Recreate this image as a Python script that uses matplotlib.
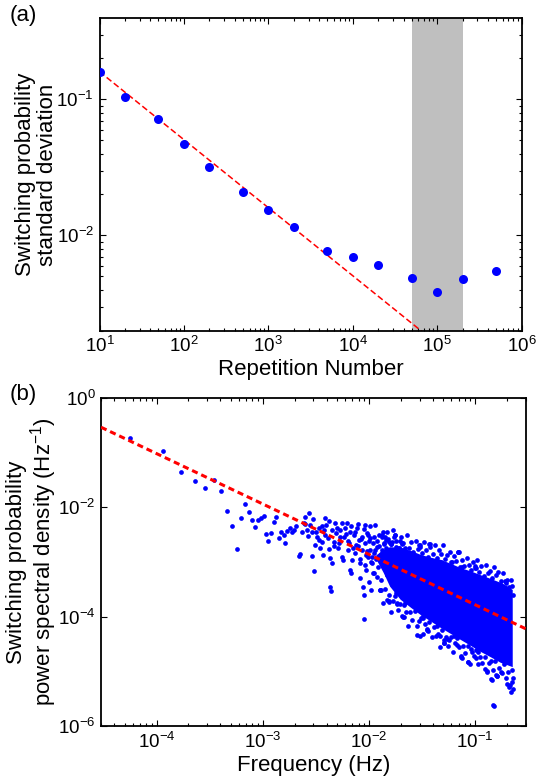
import numpy as np
import matplotlib
matplotlib.use("Agg")
import matplotlib.pyplot as plt
from matplotlib.ticker import FixedLocator, NullLocator, NullFormatter

plt.rcParams['font.family'] = ['Liberation Sans', 'DejaVu Sans']
plt.rcParams['mathtext.fontset'] = 'custom'
plt.rcParams['mathtext.rm'] = 'Liberation Sans'
plt.rcParams['mathtext.it'] = 'Liberation Sans:italic'
plt.rcParams['mathtext.bf'] = 'Liberation Sans:bold'

# ---- panel (a): std of switching probability vs repetitions
reps = [10, 20, 50, 100, 200, 500, 1e3, 2e3, 5e3, 1e4, 2e4, 5e4, 1e5, 2e5, 5e5]
std_dev = [0.160, 0.1047, 0.0713, 0.0474, 0.0319, 0.0208, 0.01545, 0.01158,
           0.00767, 0.00692, 0.00611, 0.00485, 0.00382, 0.00480, 0.00546]
fit_a_amp = 0.506      # sigma = amp * N^-1/2
fit_a_exp = -0.5
fit_a_range = [10, 1e5]
shade_range = [5e4, 2e5]

log_freq = [
    -4.246, -3.935, -3.765, -3.639, -3.542, -3.463, -3.397, -3.340, -3.287, -3.240,
    -3.205, -3.167, -3.129, -3.101, -3.070, -3.042, -3.020, -2.988, -2.966, -2.947,
    -2.922, -2.891, -2.872, -2.850, -2.828, -2.803, -2.787, -2.771, -2.746, -2.724,
    -2.708, -2.683, -2.661, -2.645, -2.630, -2.614, -2.598, -2.582, -2.567, -2.551,
    -2.535, -2.535, -2.519, -2.504, -2.488, -2.472, -2.457, -2.441, -2.431, -2.419,
    -2.409, -2.400, -2.387, -2.378, -2.369, -2.362, -2.356, -2.347, -2.331, -2.315,
    -2.306, -2.293, -2.284, -2.268, -2.252, -2.243, -2.230, -2.221, -2.205, -2.199,
    -2.189, -2.180, -2.174, -2.167, -2.158, -2.142, -2.126, -2.117, -2.111, -2.095,
    -2.086, -2.079, -2.064, -2.054, -2.048, -2.042, -2.032, -2.032, -2.023, -2.016,
    -2.010, -2.001, -1.991, -1.985, -1.979, -1.969, -1.960, -1.953, -1.947, -1.938,
    -1.928, -1.922, -1.906, -1.897, -1.891, -1.884, -1.875, -1.865, -1.859, -1.843,
    -1.828, -1.812, -1.802, -1.796, -1.780, -1.771, -1.758, -1.749, -1.740, -1.733,
    -1.727, -1.718, -1.690, -1.683, -1.657, -1.624, -1.575, -1.542, -1.526, -1.493,
    -1.451, -1.435, -1.395, -1.363, -1.330, -1.297, -1.265, -1.232, -1.199, -1.157,
    -1.134, -1.069, -1.036, -1.000, -0.971, -0.905, -0.873, -0.850, -0.834, -0.807,
    -0.758, -0.699, -0.676, -0.660, -0.650,
    -1.844, -1.750, -1.687, -1.514, -1.426, -1.325, -1.231, -1.149, -1.121, -0.988,
    -0.853, -0.759, -0.712,
    -1.891, -1.812, -1.734, -1.671, -1.523, -1.444, -1.488, -1.293, -1.246, -1.174,
    -1.121, -1.067, -0.995, -0.885, -0.838, -0.790, -0.822,
]
log_psd = [
    -0.741, -0.973, -1.351, -1.526, -1.643, -1.497, -1.703, -2.063, -2.348, -2.762,
    -2.197, -1.946, -2.092, -2.227, -2.355, -2.238, -2.202, -2.165, -2.483, -2.616,
    -2.464, -2.263, -2.172, -2.567, -2.446, -2.506, -2.646, -2.427, -2.385, -2.446,
    -2.415, -2.342, -2.890, -2.853, -2.446, -2.293, -2.184, -2.415, -2.111, -2.324,
    -2.884, -2.446, -3.164, -2.689, -2.537, -2.385, -2.750, -2.628, -2.872, -2.415,
    -2.202, -2.324, -2.567, -2.768, -3.450, -2.933, -3.535, -3.024, -2.628, -2.293,
    -2.476, -2.750, -2.659, -2.415, -2.902, -2.963, -2.537, -2.385, -2.293, -2.780,
    -2.659, -2.446, -3.146, -3.206, -2.963, -2.506, -2.841, -2.689, -2.385, -2.598,
    -3.298, -3.024, -2.780, -3.450, -4.046, -3.602, -2.324, -2.659, -3.146, -2.476,
    -2.902, -3.359, -2.780, -2.567, -3.511, -3.024, -2.659, -3.206, -2.841, -2.324,
    -3.267, -2.720, -2.506, -2.963, -3.511, -3.328, -2.780, -2.446, -3.024, -2.598,
    -3.237, -3.706, -2.841, -3.359, -2.628, -3.085, -2.506, -2.902, -3.572, -3.754,
    -3.267, -2.750, -2.663, -4.000, -3.747, -3.446, -3.807, -4.331, -2.693, -3.988,
    -4.241, -2.675, -3.958, -4.169, -4.349, -4.470, -4.410, -4.229, -4.349, -2.825,
    -4.741, -4.831, -4.590, -3.114, -4.651, -4.952, -4.651, -5.133, -5.602, -5.072,
    -5.012, -5.223, -5.283, -5.373, -5.193,
    -2.538, -2.507, -2.659, -2.690, -2.672, -2.994, -2.994, -2.812, -3.086, -3.116,
    -3.329, -3.420, -3.390,
    -3.512, -3.725, -3.767, -4.011, -4.352, -4.254, -4.029, -4.485, -4.425, -4.516,
    -4.759, -4.832, -4.759, -4.985, -5.155, -5.082, -5.630,
]
# extra points in the crowded mid band (0.003 - 0.02 Hz)
mid_logf = [
    -2.60, -2.57, -2.53, -2.50, -2.47, -2.44, -2.41, -2.38, -2.35, -2.33,
    -2.30, -2.27, -2.25, -2.22, -2.20, -2.17, -2.15, -2.13, -2.10, -2.07,
    -2.05, -2.03, -2.01, -1.99, -1.97, -2.10, -2.08, -2.06, -2.04, -2.02,
    -2.00, -1.98, -1.96,
    -1.95, -1.94, -1.93, -1.92, -1.91, -1.90, -1.89, -1.88, -1.87, -1.86,
    -1.85, -1.84, -1.83, -1.82, -1.81, -1.80, -1.79, -1.78, -1.77, -1.76,
    -1.75, -1.74, -1.73, -1.72, -1.71, -1.70, -1.69, -1.68,
]
mid_logpsd = [
    -2.30, -2.52, -2.22, -2.45, -2.60, -2.35, -2.50, -2.25, -2.42, -2.70,
    -2.38, -2.55, -2.28, -2.48, -2.62, -2.35, -2.75, -2.45, -2.30, -2.58,
    -2.40, -2.88, -2.50, -2.35, -2.90, -2.70, -2.95, -2.55, -3.05, -2.80,
    -2.62, -3.00, -3.20,
    -2.55, -2.78, -2.95, -2.62, -3.10, -2.70, -2.85, -2.50, -3.00, -2.65,
    -2.92, -2.75, -3.20, -2.58, -2.88, -3.05, -2.68, -2.80, -2.95, -2.55,
    -3.15, -2.72, -2.86, -3.00, -2.62, -3.30, -2.78, -2.92,
]
# upper and lower rim of the dense high-frequency cloud
rim_hi_logf = [
    -1.88, -1.86, -1.83, -1.81, -1.79, -1.77, -1.74, -1.72, -1.70, -1.68,
    -1.66, -1.64, -1.62, -1.60, -1.58, -1.56, -1.54, -1.52, -1.50, -1.48,
    -1.46, -1.44, -1.42, -1.40, -1.38, -1.36, -1.34, -1.32, -1.30, -1.28,
    -1.26, -1.24, -1.22, -1.20, -1.18, -1.16, -1.14, -1.12, -1.10, -1.08,
    -1.06, -1.04, -1.02, -1.00, -0.98, -0.96, -0.94, -0.92, -0.90, -0.88,
    -0.86, -0.84, -0.82, -0.80, -0.78, -0.76, -0.74, -0.72, -0.70, -0.68,
    -0.66, -0.65, -0.64,
]
rim_hi_logpsd = [
    -2.54, -2.68, -2.46, -2.63, -2.67, -2.42, -2.61, -2.74, -2.54, -2.66,
    -2.74, -2.50, -2.74, -2.63, -2.82, -2.62, -2.76, -2.73, -2.84, -2.63,
    -2.79, -2.91, -2.73, -2.86, -2.69, -2.92, -2.79, -2.86, -2.69, -2.95,
    -2.88, -2.81, -3.00, -2.89, -2.99, -2.82, -3.10, -2.97, -3.07, -2.92,
    -3.06, -3.15, -3.00, -3.08, -2.96, -3.18, -3.08, -3.26, -3.06, -3.20,
    -3.16, -3.29, -3.09, -3.24, -3.18, -3.34, -3.20, -3.34, -3.32, -3.45,
    -3.32, -3.43, -3.61,
]
rim_lo_logf = [
    -1.89, -1.87, -1.85, -1.83, -1.81, -1.79, -1.77, -1.75, -1.73, -1.71,
    -1.69, -1.67, -1.65, -1.63, -1.61, -1.59, -1.57, -1.55, -1.53, -1.51,
    -1.49, -1.47, -1.45, -1.43, -1.41, -1.39, -1.37, -1.35, -1.33, -1.31,
    -1.29, -1.27, -1.25, -1.23, -1.21, -1.19, -1.17, -1.15, -1.13, -1.11,
    -1.09, -1.07, -1.05, -1.03, -1.01, -0.99, -0.97, -0.95, -0.93, -0.91,
    -0.89, -0.87, -0.85, -0.83, -0.81, -0.79, -0.77, -0.75, -0.73, -0.71,
    -0.69, -0.67, -0.655, -0.645, -0.64,
]
rim_lo_logpsd = [
    -3.52, -3.75, -3.50, -3.69, -3.60, -3.91, -3.71, -3.62, -3.87, -3.76,
    -3.99, -3.78, -3.92, -4.17, -3.91, -4.05, -3.89, -4.16, -4.07, -4.02,
    -4.32, -4.13, -4.22, -4.10, -4.37, -4.19, -4.36, -4.31, -4.55, -4.24,
    -4.43, -4.37, -4.53, -4.37, -4.65, -4.48, -4.38, -4.56, -4.72, -4.53,
    -4.67, -4.54, -4.86, -4.65, -4.72, -4.61, -4.87, -4.73, -4.84, -4.73,
    -5.00, -4.85, -4.81, -4.98, -4.81, -5.09, -4.93, -5.02, -4.87, -5.12,
    -5.01, -5.24, -4.98, -5.12, -5.32,
]
# solid core of the cloud, outline
cloud_logf = [-1.93, -1.86, -1.80, -1.70, -1.60, -1.51, -1.42, -1.325, -1.23,
              -1.136, -1.04, -0.947, -0.85, -0.758, -0.70, -0.645]
cloud_upper = [-2.88, -2.78, -2.73, -2.74, -2.80, -2.87, -2.92, -2.96, -3.03,
               -3.11, -3.17, -3.24, -3.31, -3.38, -3.44, -3.51]
cloud_lower = [-2.95, -3.20, -3.45, -3.69, -3.84, -3.97, -4.08, -4.20, -4.31,
               -4.42, -4.53, -4.64, -4.74, -4.84, -4.88, -4.92]
fit_b_logamp = -4.70   # log10 psd = logamp + exp*log10 f
fit_b_exp = -0.92
fit_b_range = [3e-5, 0.3]

blue = (0, 0, 1)
red = (1, 0, 0)


def style_axes(ax):
    ax.tick_params(which='both', direction='in', top=True, right=True,
                   labelsize=13.5, pad=4, width=0.8)
    ax.tick_params(which='major', length=4)
    ax.tick_params(which='minor', length=2)
    for s in ax.spines.values():
        s.set_linewidth(1.3)


def dots(ax, lf, lp):
    ax.plot(10.0 ** np.array(lf), 10.0 ** np.array(lp), 'o', color=blue,
            ms=3.4, mew=0, zorder=2)


fig = plt.figure(figsize=(5.44, 7.83), dpi=100)

# ---------------- (a)
ax1 = fig.add_axes([99.5 / 544, 1 - 330.5 / 783, 422 / 544, 312.2 / 783])
ax1.axvspan(shade_range[0], shade_range[1], color=(0.75, 0.75, 0.75), lw=0, zorder=0)
fx = np.array(fit_a_range)
ax1.plot(fx, fit_a_amp * fx ** fit_a_exp, color=red, ls=(0, (4, 2)), lw=1.1, zorder=2)
ax1.plot(reps, std_dev, 'o', color=blue, ms=6.5, mew=0, zorder=3)
ax1.set_xscale('log')
ax1.set_yscale('log')
ax1.set_xlim(10, 1e6)
ax1.set_ylim(2e-3, 0.395)
ax1.yaxis.set_minor_formatter(NullFormatter())
style_axes(ax1)
ax1.set_xlabel('Repetition Number', fontsize=16, labelpad=2)
ax1.set_ylabel('Switching probability\nstandard deviation', fontsize=16,
               linespacing=1.05)
ax1.yaxis.set_label_coords(-0.098, 0.5)
fig.text(10 / 544, 1 - 5 / 783, '(a)', fontsize=16, va='top', ha='left')

# ---------------- (b)
ax2 = fig.add_axes([101 / 544, 1 - 726.3 / 783, 424.7 / 544, 328.6 / 783])
cf = 10.0 ** np.array(cloud_logf)
ax2.fill(np.concatenate([cf, cf[::-1]]),
         np.concatenate([10.0 ** np.array(cloud_upper), 10.0 ** np.array(cloud_lower)[::-1]]),
         color=blue, lw=0, zorder=2)
dots(ax2, log_freq, log_psd)
dots(ax2, mid_logf, mid_logpsd)
dots(ax2, rim_hi_logf, rim_hi_logpsd)
dots(ax2, rim_lo_logf, rim_lo_logpsd)
bx = np.array(fit_b_range)
ax2.plot(bx, 10.0 ** (fit_b_logamp + fit_b_exp * np.log10(bx)), color=red,
         ls=(0, (2, 1.3)), lw=2.2, zorder=3)
ax2.set_xscale('log')
ax2.set_yscale('log')
ax2.set_xlim(3e-5, 0.3)
ax2.set_ylim(1e-6, 1)
ax2.yaxis.set_major_locator(FixedLocator([1e-6, 1e-4, 1e-2, 1e0]))
ax2.yaxis.set_minor_locator(NullLocator())
ax2.xaxis.set_minor_formatter(NullFormatter())
style_axes(ax2)
ax2.set_xlabel('Frequency (Hz)', fontsize=16, labelpad=2)
ax2.set_ylabel('Switching probability\npower spectral density (Hz$^{-1}$)',
               fontsize=16, linespacing=1.05)
ax2.yaxis.set_label_coords(-0.099, 0.5)
fig.text(10 / 544, 1 - 384 / 783, '(b)', fontsize=16, va='top', ha='left')

fig.savefig('out.png', dpi=100)
